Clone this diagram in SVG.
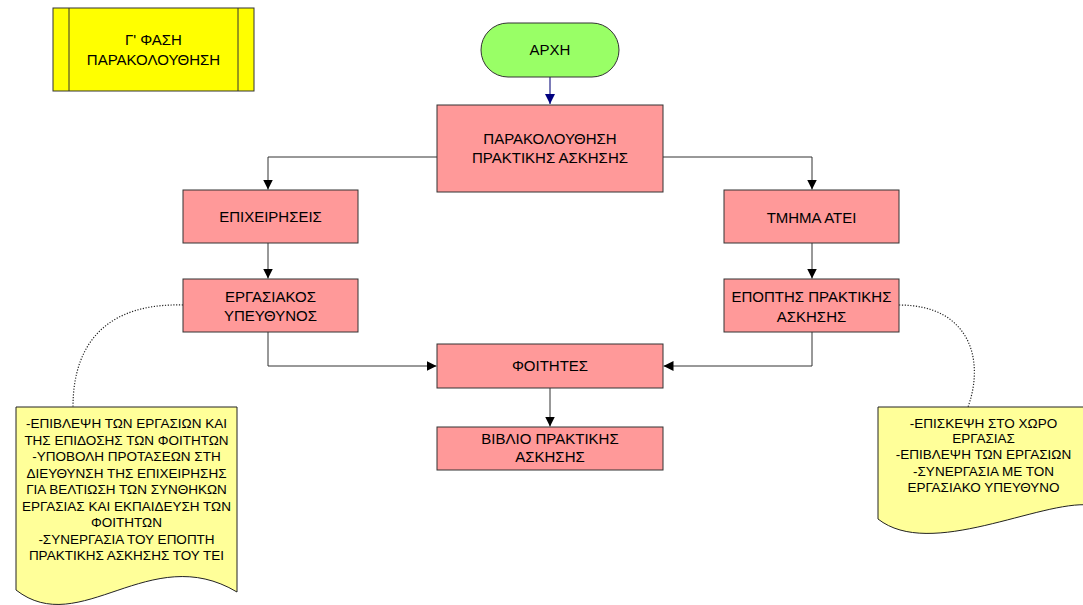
<svg xmlns="http://www.w3.org/2000/svg" width="1083" height="605" viewBox="0 0 1083 605">
<style>
text{font-family:"Liberation Sans",Arial,sans-serif;fill:#000;text-anchor:middle}
.t15{font-size:15px}
.t13{font-size:13.5px}
.box{fill:#FF9999;stroke:#333;stroke-width:1}
.conn{fill:none;stroke:#333;stroke-width:1}
.dot{fill:none;stroke:#222;stroke-width:1.2;stroke-dasharray:1.2 1.6}
.note{fill:#FFFF99;stroke:#222;stroke-width:1}
</style>
<defs>
<marker id="ah" markerUnits="userSpaceOnUse" markerWidth="10" markerHeight="10" refX="10" refY="5" orient="auto">
<path d="M0,0 L10,5 L0,10 z" fill="#000"/>
</marker>
<marker id="ahb" markerUnits="userSpaceOnUse" markerWidth="10" markerHeight="10" refX="10" refY="5" orient="auto">
<path d="M0,0 L10,5 L0,10 z" fill="#000080"/>
</marker>
</defs>
<g id="connectors">
<path d="M550,77 L550,104" fill="none" stroke="#5050a0" stroke-width="1.5" marker-end="url(#ahb)"/>
<path class="conn" d="M437,157 L268,157 L268,189.5" marker-end="url(#ah)"/>
<path class="conn" d="M663,157 L812,157 L812,189.5" marker-end="url(#ah)"/>
<path class="conn" d="M268,243 L268,278.5" marker-end="url(#ah)"/>
<path class="conn" d="M812,243 L812,278.5" marker-end="url(#ah)"/>
<path class="conn" d="M268,332 L268,366 L436.5,366" marker-end="url(#ah)"/>
<path class="conn" d="M812,332 L812,366 L663.5,366" marker-end="url(#ah)"/>
<path class="conn" d="M550,388 L550,426.5" marker-end="url(#ah)"/>
<path class="dot" d="M183,305 C110,303 73,340 73,407"/>
<path class="dot" d="M899,305 C970,305 985,360 968,407"/>
</g>
<g id="phase">
<rect x="53" y="8" width="201" height="83" fill="#FFFF00" stroke="#333" stroke-width="1"/>
<line x1="69" y1="8" x2="69" y2="91" stroke="#333"/>
<line x1="238" y1="8" x2="238" y2="91" stroke="#333"/>
<text class="t15" x="153.5" y="44.5">Γ' ΦΑΣΗ</text>
<text class="t15" x="153.5" y="64.5">ΠΑΡΑΚΟΛΟΥΘΗΣΗ</text>
</g>
<g id="start">
<rect x="481" y="23" width="138" height="54" rx="27" ry="27" fill="#99FF66" stroke="#333" stroke-width="1"/>
<text class="t15" x="550" y="55.4">ΑΡΧΗ</text>
</g>
<g id="monitoring">
<rect class="box" x="437" y="105" width="226" height="87"/>
<text class="t15" x="550" y="143.5">ΠΑΡΑΚΟΛΟΥΘΗΣΗ</text>
<text class="t15" x="550" y="162.5">ΠΡΑΚΤΙΚΗΣ ΑΣΚΗΣΗΣ</text>
</g>
<g id="companies">
<rect class="box" x="183" y="190" width="175" height="53"/>
<text class="t15" x="270.5" y="222">ΕΠΙΧΕΙΡΗΣΕΙΣ</text>
</g>
<g id="supervisor-work">
<rect class="box" x="183" y="279" width="175" height="53"/>
<text class="t15" x="270.5" y="301.5">ΕΡΓΑΣΙΑΚΟΣ</text>
<text class="t15" x="270.5" y="321">ΥΠΕΥΘΥΝΟΣ</text>
</g>
<g id="dept">
<rect class="box" x="724" y="190" width="175" height="53"/>
<text class="t15" x="811.5" y="223">ΤΜΗΜΑ ΑΤΕΙ</text>
</g>
<g id="supervisor-dept">
<rect class="box" x="724" y="279" width="175" height="53"/>
<text class="t15" x="811.5" y="301.5">ΕΠΟΠΤΗΣ ΠΡΑΚΤΙΚΗΣ</text>
<text class="t15" x="811.5" y="321.5">ΑΣΚΗΣΗΣ</text>
</g>
<g id="students">
<rect class="box" x="437" y="344" width="226" height="44"/>
<text class="t15" x="550" y="370.5">ΦΟΙΤΗΤΕΣ</text>
</g>
<g id="book">
<rect class="box" x="437" y="427" width="226" height="43"/>
<text class="t15" x="550" y="443.7">ΒΙΒΛΙΟ ΠΡΑΚΤΙΚΗΣ</text>
<text class="t15" x="550" y="462">ΑΣΚΗΣΗΣ</text>
</g>
<g id="note-left">
<path class="note" d="M16,407 L237,407 L237,592 C150,540 80,640 16,590 Z"/>
<text class="t13" x="126.5" y="428">-ΕΠΙΒΛΕΨΗ ΤΩΝ ΕΡΓΑΣΙΩΝ ΚΑΙ</text>
<text class="t13" x="126.5" y="444.5">ΤΗΣ ΕΠΙΔΟΣΗΣ ΤΩΝ ΦΟΙΤΗΤΩΝ</text>
<text class="t13" x="126.5" y="461">-ΥΠΟΒΟΛΗ ΠΡΟΤΑΣΕΩΝ ΣΤΗ</text>
<text class="t13" x="126.5" y="477.5">ΔΙΕΥΘΥΝΣΗ ΤΗΣ ΕΠΙΧΕΙΡΗΣΗΣ</text>
<text class="t13" x="126.5" y="494">ΓΙΑ ΒΕΛΤΙΩΣΗ ΤΩΝ ΣΥΝΘΗΚΩΝ</text>
<text class="t13" x="126.5" y="510.5">ΕΡΓΑΣΙΑΣ ΚΑΙ ΕΚΠΑΙΔΕΥΣΗ ΤΩΝ</text>
<text class="t13" x="126.5" y="527">ΦΟΙΤΗΤΩΝ</text>
<text class="t13" x="126.5" y="543.5">-ΣΥΝΕΡΓΑΣΙΑ ΤΟΥ ΕΠΟΠΤΗ</text>
<text class="t13" x="126.5" y="560">ΠΡΑΚΤΙΚΗΣ ΑΣΚΗΣΗΣ ΤΟΥ ΤΕΙ</text>
</g>
<g id="note-right">
<path class="note" d="M878,407 L1090,407 L1090,505 C1040,500 930,560 878,519 Z"/>
<text class="t13" x="983.5" y="427.5">-ΕΠΙΣΚΕΨΗ ΣΤΟ ΧΩΡΟ</text>
<text class="t13" x="983.5" y="443.3">ΕΡΓΑΣΙΑΣ</text>
<text class="t13" x="983.5" y="459">-ΕΠΙΒΛΕΨΗ ΤΩΝ ΕΡΓΑΣΙΩΝ</text>
<text class="t13" x="983.5" y="475.5">-ΣΥΝΕΡΓΑΣΙΑ ΜΕ ΤΟΝ</text>
<text class="t13" x="983.5" y="491.5">ΕΡΓΑΣΙΑΚΟ ΥΠΕΥΘΥΝΟ</text>
</g>
</svg>
